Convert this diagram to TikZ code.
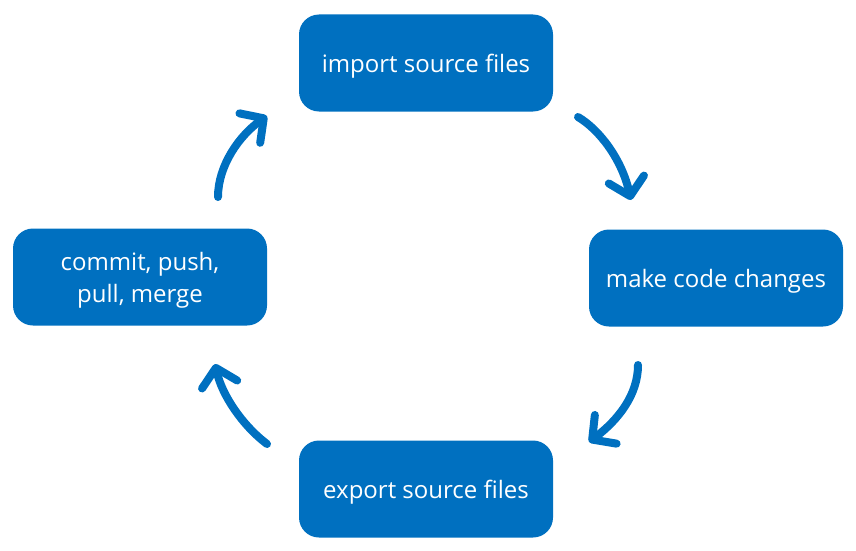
\documentclass[tikz,border=0pt]{standalone}
\usepackage{fontspec}
\setmainfont{Open Sans}
\usetikzlibrary{arrows.meta}
\definecolor{boxblue}{HTML}{0070C0}
\tikzset{
  stagebox/.style={fill=boxblue, draw=none, rounded corners=20pt, minimum width=254pt, minimum height=97pt,
    text=white, font=\fontsize{24}{32}\selectfont, align=center, inner sep=0pt, text depth=0pt},
  cyclearrow/.style={draw=boxblue, line width=8pt, line cap=round,
    -{Straight Barb[round, length=17pt, width=36pt]}}
}
\begin{document}
\begin{tikzpicture}[x=1pt,y=-1pt]
\useasboundingbox (0,0) rectangle (856,551);
\node[stagebox] (imp) at (426,63) {import source files};
\node[stagebox] (mk) at (716,278) {make code changes};
\node[stagebox] (exp) at (426,489) {export source files};
\node[stagebox, text depth=-2pt] (cm) at (140,277) {commit, push,\\pull, merge};
\coordinate (a1s) at (578,117);
\coordinate (a1e) at (631,200);
\coordinate (a2s) at (638,365);
\coordinate (a2e) at (589,442);
\coordinate (a3s) at (267,444);
\coordinate (a3e) at (215,364);
\coordinate (a4s) at (218,197);
\coordinate (a4e) at (267,116);
\draw[cyclearrow] (a1s) .. controls (600,130) and (622,160) .. (a1e);
\draw[cyclearrow] (a2s) .. controls (638,395) and (618,420) .. (a2e);
\draw[cyclearrow] (a3s) .. controls (242,425) and (222,395) .. (a3e);
\draw[cyclearrow] (a4s) .. controls (218,165) and (240,135) .. (a4e);
\end{tikzpicture}
\end{document}
